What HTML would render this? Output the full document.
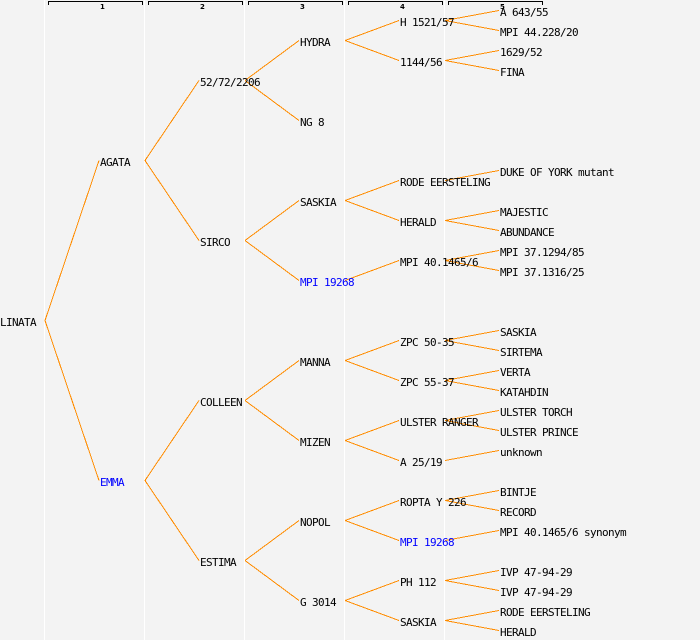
<!DOCTYPE html>
<html>
<head>
<meta charset="utf-8">
<style>
  html, body { margin: 0; padding: 0; background: #f3f3f3; }
  svg { display: block; }
  .t { font-family: "DejaVu Sans Mono", "Liberation Mono", monospace; font-size: 11px; letter-spacing: -0.62px; fill: #000; }
  .b { fill: #0000ff; }
  .h { font-family: "DejaVu Sans", "Liberation Sans", sans-serif; font-size: 7px; font-weight: bold; fill: #000; }
  line { stroke: #ff8c00; stroke-width: 1; }
</style>
</head>
<body>
<svg width="700" height="640" viewBox="0 0 700 640" xmlns="http://www.w3.org/2000/svg">
  <rect x="0" y="0" width="700" height="640" fill="#f3f3f3"/>
  <!-- column separators -->
  <rect x="44" y="0" width="1" height="640" fill="#ffffff"/>
  <rect x="144" y="0" width="1" height="640" fill="#ffffff"/>
  <rect x="244" y="0" width="1" height="640" fill="#ffffff"/>
  <rect x="344" y="0" width="1" height="640" fill="#ffffff"/>
  <rect x="444" y="0" width="1" height="640" fill="#ffffff"/>

  <!-- header brackets -->
  <g fill="#000">
    <rect x="48" y="1" width="95" height="1"/><rect x="48" y="1" width="1" height="4"/><rect x="142" y="1" width="1" height="4"/>
    <rect x="148" y="1" width="95" height="1"/><rect x="148" y="1" width="1" height="4"/><rect x="242" y="1" width="1" height="4"/>
    <rect x="248" y="1" width="95" height="1"/><rect x="248" y="1" width="1" height="4"/><rect x="342" y="1" width="1" height="4"/>
    <rect x="348" y="1" width="95" height="1"/><rect x="348" y="1" width="1" height="4"/><rect x="442" y="1" width="1" height="4"/>
    <rect x="448" y="1" width="95" height="1"/><rect x="448" y="1" width="1" height="4"/><rect x="542" y="1" width="1" height="4"/>
  </g>
  <text class="h" x="100" y="9">1</text>
  <text class="h" x="200" y="9">2</text>
  <text class="h" x="300" y="9">3</text>
  <text class="h" x="400" y="9">4</text>
  <text class="h" x="500" y="9">5</text>

  <!-- edges -->
  <g shape-rendering="crispEdges">
    <!-- depth 0 -> 1 -->
    <line x1="45" y1="320.5" x2="99" y2="160.5"/>
    <line x1="45" y1="320.5" x2="99" y2="480.5"/>
    <!-- depth 1 -> 2 -->
    <line x1="145" y1="160.5" x2="199" y2="80.5"/>
    <line x1="145" y1="160.5" x2="199" y2="240.5"/>
    <line x1="145" y1="480.5" x2="199" y2="400.5"/>
    <line x1="145" y1="480.5" x2="199" y2="560.5"/>
    <!-- depth 2 -> 3 -->
    <line x1="245" y1="80.5" x2="299" y2="40.5"/>
    <line x1="245" y1="80.5" x2="299" y2="120.5"/>
    <line x1="245" y1="240.5" x2="299" y2="200.5"/>
    <line x1="245" y1="240.5" x2="299" y2="280.5"/>
    <line x1="245" y1="400.5" x2="299" y2="360.5"/>
    <line x1="245" y1="400.5" x2="299" y2="440.5"/>
    <line x1="245" y1="560.5" x2="299" y2="520.5"/>
    <line x1="245" y1="560.5" x2="299" y2="600.5"/>
    <!-- depth 3 -> 4 -->
    <line x1="345" y1="40.5" x2="399" y2="20.5"/>
    <line x1="345" y1="40.5" x2="399" y2="60.5"/>
    <line x1="345" y1="200.5" x2="399" y2="180.5"/>
    <line x1="345" y1="200.5" x2="399" y2="220.5"/>
    <line x1="345" y1="280.5" x2="399" y2="260.5"/>
    <line x1="345" y1="360.5" x2="399" y2="340.5"/>
    <line x1="345" y1="360.5" x2="399" y2="380.5"/>
    <line x1="345" y1="440.5" x2="399" y2="420.5"/>
    <line x1="345" y1="440.5" x2="399" y2="460.5"/>
    <line x1="345" y1="520.5" x2="399" y2="500.5"/>
    <line x1="345" y1="520.5" x2="399" y2="540.5"/>
    <line x1="345" y1="600.5" x2="399" y2="580.5"/>
    <line x1="345" y1="600.5" x2="399" y2="620.5"/>
    <!-- depth 4 -> 5 -->
    <line x1="445" y1="20.5" x2="499" y2="10.5"/>
    <line x1="445" y1="20.5" x2="499" y2="30.5"/>
    <line x1="445" y1="60.5" x2="499" y2="50.5"/>
    <line x1="445" y1="60.5" x2="499" y2="70.5"/>
    <line x1="445" y1="180.5" x2="499" y2="170.5"/>
    <line x1="445" y1="220.5" x2="499" y2="210.5"/>
    <line x1="445" y1="220.5" x2="499" y2="230.5"/>
    <line x1="445" y1="260.5" x2="499" y2="250.5"/>
    <line x1="445" y1="260.5" x2="499" y2="270.5"/>
    <line x1="445" y1="340.5" x2="499" y2="330.5"/>
    <line x1="445" y1="340.5" x2="499" y2="350.5"/>
    <line x1="445" y1="380.5" x2="499" y2="370.5"/>
    <line x1="445" y1="380.5" x2="499" y2="390.5"/>
    <line x1="445" y1="420.5" x2="499" y2="410.5"/>
    <line x1="445" y1="420.5" x2="499" y2="430.5"/>
    <line x1="445" y1="460.5" x2="499" y2="450.5"/>
    <line x1="445" y1="500.5" x2="499" y2="490.5"/>
    <line x1="445" y1="500.5" x2="499" y2="510.5"/>
    <line x1="445" y1="540.5" x2="499" y2="530.5"/>
    <line x1="445" y1="580.5" x2="499" y2="570.5"/>
    <line x1="445" y1="580.5" x2="499" y2="590.5"/>
    <line x1="445" y1="620.5" x2="499" y2="610.5"/>
    <line x1="445" y1="620.5" x2="499" y2="630.5"/>
  </g>

  <!-- labels: baseline = Y + 4 -->
  <!-- depth 0 -->
  <text class="t" x="0" y="326">LINATA</text>
  <!-- depth 1 -->
  <text class="t" x="100" y="166">AGATA</text>
  <text class="t b" x="100" y="486">EMMA</text>
  <!-- depth 2 -->
  <text class="t" x="200" y="86">52/72/2206</text>
  <text class="t" x="200" y="246">SIRCO</text>
  <text class="t" x="200" y="406">COLLEEN</text>
  <text class="t" x="200" y="566">ESTIMA</text>
  <!-- depth 3 -->
  <text class="t" x="300" y="46">HYDRA</text>
  <text class="t" x="300" y="126">NG 8</text>
  <text class="t" x="300" y="206">SASKIA</text>
  <text class="t b" x="300" y="286">MPI 19268</text>
  <text class="t" x="300" y="366">MANNA</text>
  <text class="t" x="300" y="446">MIZEN</text>
  <text class="t" x="300" y="526">NOPOL</text>
  <text class="t" x="300" y="606">G 3014</text>
  <!-- depth 4 -->
  <text class="t" x="400" y="26">H 1521/57</text>
  <text class="t" x="400" y="66">1144/56</text>
  <text class="t" x="400" y="186">RODE EERSTELING</text>
  <text class="t" x="400" y="226">HERALD</text>
  <text class="t" x="400" y="266">MPI 40.1465/6</text>
  <text class="t" x="400" y="346">ZPC 50-35</text>
  <text class="t" x="400" y="386">ZPC 55-37</text>
  <text class="t" x="400" y="426">ULSTER RANGER</text>
  <text class="t" x="400" y="466">A 25/19</text>
  <text class="t" x="400" y="506">ROPTA Y 226</text>
  <text class="t b" x="400" y="546">MPI 19268</text>
  <text class="t" x="400" y="586">PH 112</text>
  <text class="t" x="400" y="626">SASKIA</text>
  <!-- depth 5 -->
  <text class="t" x="500" y="16">A 643/55</text>
  <text class="t" x="500" y="36">MPI 44.228/20</text>
  <text class="t" x="500" y="56">1629/52</text>
  <text class="t" x="500" y="76">FINA</text>
  <text class="t" x="500" y="176">DUKE OF YORK mutant</text>
  <text class="t" x="500" y="216">MAJESTIC</text>
  <text class="t" x="500" y="236">ABUNDANCE</text>
  <text class="t" x="500" y="256">MPI 37.1294/85</text>
  <text class="t" x="500" y="276">MPI 37.1316/25</text>
  <text class="t" x="500" y="336">SASKIA</text>
  <text class="t" x="500" y="356">SIRTEMA</text>
  <text class="t" x="500" y="376">VERTA</text>
  <text class="t" x="500" y="396">KATAHDIN</text>
  <text class="t" x="500" y="416">ULSTER TORCH</text>
  <text class="t" x="500" y="436">ULSTER PRINCE</text>
  <text class="t" x="500" y="456">unknown</text>
  <text class="t" x="500" y="496">BINTJE</text>
  <text class="t" x="500" y="516">RECORD</text>
  <text class="t" x="500" y="536">MPI 40.1465/6 synonym</text>
  <text class="t" x="500" y="576">IVP 47-94-29</text>
  <text class="t" x="500" y="596">IVP 47-94-29</text>
  <text class="t" x="500" y="616">RODE EERSTELING</text>
  <text class="t" x="500" y="636">HERALD</text>
</svg>
</body>
</html>
